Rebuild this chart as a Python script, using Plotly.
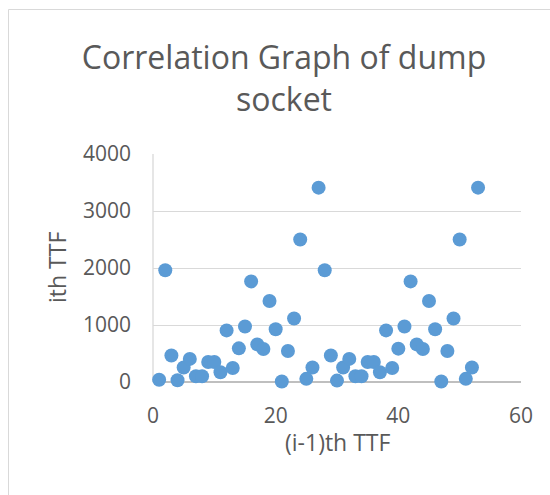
import plotly.graph_objects as go

# Data
prev_ttf = list(range(1, 54))
ith_ttf = [40, 1960, 465, 30, 255, 405, 100, 100, 350, 350,
           170, 905, 245, 590, 975, 1765, 660, 580, 1420, 925,
           10, 545, 1115, 2500, 55, 255, 3410, 1960, 465, 25,
           255, 405, 100, 100, 350, 350, 170, 905, 245, 585,
           975, 1765, 660, 580, 1420, 925, 10, 545, 1115, 2500,
           55, 255, 3410]

title_text = "Correlation Graph of dump<br>socket"
x_title = "(i-1)th TTF"
y_title = "ith TTF"
x_ticks = [0, 20, 40, 60]
y_ticks = [0, 1000, 2000, 3000, 4000]

W, H = 550, 495
L, R, T, B = 153, 29, 154, 113
PW, PH = W - L - R, H - T - B

def px(x):
    return (x - L) / PW

def py(y):
    return (H - B - y) / PH

FONT = "Open Sans"
TXT = "#595959"

fig = go.Figure()
fig.add_trace(go.Scatter(
    x=prev_ttf, y=ith_ttf, mode="markers",
    marker=dict(size=14, color="#5B9BD5", line=dict(width=0)),
    cliponaxis=False, showlegend=False,
))

fig.update_layout(
    width=W, height=H,
    margin=dict(l=L, r=R, t=T, b=B),
    paper_bgcolor="white", plot_bgcolor="white",
    font=dict(family=FONT, color=TXT),
    title=dict(text=title_text, x=284 / W, xanchor="center",
               y=1 - 69 / H, yanchor="top", yref="container",
               font=dict(size=32, color=TXT, family=FONT)),
    xaxis=dict(range=[0, 60], tickvals=x_ticks, showgrid=False,
               zeroline=False, showline=False,
               tickfont=dict(size=21, color=TXT), ticks="", ticklabelstandoff=19),
    yaxis=dict(range=[0, 4000], tickvals=y_ticks, showgrid=True,
               gridcolor="#d9d9d9", gridwidth=1.3,
               zeroline=True, zerolinecolor="#bfbfbf", zerolinewidth=1.5,
               showline=False,
               tickfont=dict(size=21, color=TXT), ticks="", ticklabelstandoff=21),
    annotations=[
        dict(text=x_title, xref="paper", yref="paper", x=px(338), y=py(442),
             xanchor="center", yanchor="middle", showarrow=False,
             font=dict(size=23, color=TXT, family=FONT)),
        dict(text=y_title, xref="paper", yref="paper", x=px(57), y=py(268),
             xanchor="center", yanchor="middle", showarrow=False, textangle=-90,
             font=dict(size=23, color=TXT, family=FONT)),
    ],
    shapes=[
        dict(type="line", xref="paper", yref="paper", x0=0, x1=0, y0=0, y1=1,
             line=dict(color="#d9d9d9", width=1.3), layer="below"),
        dict(type="line", xref="paper", yref="paper", x0=px(8.5), x1=px(W + 5),
             y0=py(9.5), y1=py(9.5), line=dict(color="#d9d9d9", width=1)),
        dict(type="line", xref="paper", yref="paper", x0=px(8.5), x1=px(8.5),
             y0=py(9.5), y1=py(H + 5), line=dict(color="#d9d9d9", width=1)),
    ],
)

fig.write_html("out.html")
